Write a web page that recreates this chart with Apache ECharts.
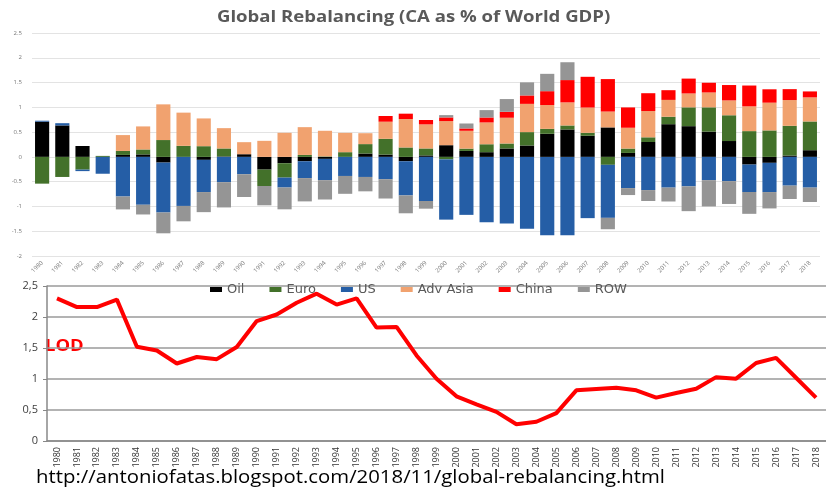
<!DOCTYPE html>
<html>
<head>
<meta charset="utf-8">
<script src="https://cdn.jsdelivr.net/npm/echarts@6/dist/echarts.min.js"></script>
<style>
  html, body { margin: 0; padding: 0; background: #fff; }
  #main { width: 826px; height: 490px; }
</style>
</head>
<body>
<div id="main"></div>
<script>
var years = [];
for (var y = 1980; y <= 2018; y++) years.push(String(y));

// current accounts as % of world GDP
var oil = [0.71, 0.635, 0.22, 0, 0.04, 0.05, -0.115, 0, -0.06, 0.01,
  0.054, -0.257, -0.128, -0.088, -0.04, 0, 0.068, 0.047, -0.088, 0.03,
  0.236, 0.12, 0.095, 0.17, 0.23, 0.466, 0.554, 0.426, 0.595, 0.08,
  0.30, 0.66, 0.62, 0.51, 0.32, -0.155, -0.12, 0.027, 0.135];
var euro = [-0.54, -0.405, -0.257, 0.02, 0.08, 0.10, 0.34, 0.223, 0.216, 0.16,
  0, -0.33, -0.29, 0.04, 0.01, 0.095, 0.19, 0.318, 0.19, 0.14,
  -0.05, 0.047, 0.16, 0.10, 0.27, 0.10, 0.08, 0.06, -0.16, 0.088,
  0.095, 0.15, 0.38, 0.49, 0.52, 0.52, 0.534, 0.60, 0.58];
var us = [0.02, 0.045, -0.03, -0.34, -0.80, -0.966, -1.007, -0.99, -0.65, -0.51,
  -0.35, 0, -0.20, -0.34, -0.43, -0.385, -0.405, -0.45, -0.69, -0.89,
  -1.216, -1.17, -1.32, -1.345, -1.45, -1.58, -1.58, -1.236, -1.07, -0.63,
  -0.67, -0.62, -0.595, -0.47, -0.49, -0.554, -0.59, -0.58, -0.62];
var advAsia = [0, 0, 0, 0, 0.32, 0.465, 0.72, 0.67, 0.56, 0.41,
  0.243, 0.324, 0.486, 0.56, 0.517, 0.39, 0.22, 0.345, 0.574, 0.486,
  0.486, 0.36, 0.44, 0.52, 0.57, 0.48, 0.466, 0.51, 0.32, 0.42,
  0.53, 0.34, 0.28, 0.30, 0.30, 0.50, 0.56, 0.52, 0.486];
var china = [0, 0, 0, 0, 0, 0, 0, 0, 0, 0,
  0, 0, 0, 0, 0, 0, 0, 0.115, 0.108, 0.088,
  0.074, 0.047, 0.10, 0.12, 0.17, 0.28, 0.45, 0.62, 0.655, 0.41,
  0.36, 0.196, 0.30, 0.196, 0.31, 0.42, 0.27, 0.22, 0.12];
var row = [0, 0, 0, 0, -0.26, -0.196, -0.42, -0.31, -0.405, -0.51,
  -0.46, -0.39, -0.44, -0.47, -0.39, -0.36, -0.29, -0.39, -0.36, -0.155,
  0.047, 0.10, 0.149, 0.257, 0.264, 0.35, 0.36, 0, -0.23, -0.14,
  -0.22, -0.28, -0.50, -0.53, -0.46, -0.44, -0.33, -0.27, -0.29];

// LOD line
var lod = [2.30, 2.16, 2.16, 2.28, 1.52, 1.46, 1.25, 1.355, 1.32, 1.516,
  1.935, 2.04, 2.23, 2.376, 2.2, 2.30, 1.83, 1.84, 1.38, 1.005,
  0.72, 0.59, 0.47, 0.27, 0.31, 0.45, 0.817, 0.84, 0.86, 0.817,
  0.70, 0.774, 0.844, 1.03, 1.005, 1.258, 1.34, 1.02, 0.70];

var names = ['Oil', 'Euro', 'US', 'Adv Asia', 'China', 'ROW'];
var colors = ['#000000', '#43712a', '#255ea6', '#f1a26f', '#ff0000', '#959595'];
var blocks = [oil, euro, us, advAsia, china, row];

var myChart = echarts.init(document.getElementById('main'));

var series = names.map(function (n, i) {
  return {
    name: n,
    type: 'bar',
    stack: 'ca',
    xAxisIndex: 0,
    yAxisIndex: 0,
    barCategoryGap: '30%',
    itemStyle: { color: colors[i] },
    data: blocks[i]
  };
});
series.push({
  name: 'LOD',
  type: 'line',
  xAxisIndex: 1,
  yAxisIndex: 1,
  symbol: 'none',
  lineStyle: { color: '#ff0000', width: 4 },
  data: lod
});

var option = {
  animation: false,
  textStyle: { fontFamily: 'Open Sans' },
  legend: {
    data: names,
    left: 205,
    top: 278,
    icon: 'rect',
    itemWidth: 12,
    itemHeight: 5,
    itemGap: 25,
    textStyle: { fontSize: 13, color: '#595959', fontFamily: 'DejaVu Sans' }
  },
  grid: [
    { left: 32, top: 33, width: 788, height: 223 },
    { left: 47, top: 286, width: 781, height: 155 }
  ],
  xAxis: [{
    gridIndex: 0,
    type: 'category',
    data: years,
    axisLine: { show: false },
    axisTick: { show: false },
    axisLabel: { rotate: 45, fontSize: 6, color: '#777', margin: 6 }
  }, {
    gridIndex: 1,
    type: 'category',
    data: years,
    axisLine: { lineStyle: { color: '#888', width: 1.5 } },
    axisTick: { lineStyle: { color: '#888' }, length: 4 },
    axisLabel: { rotate: 90, fontSize: 9, color: '#333', margin: 6, interval: 0 }
  }],
  yAxis: [{
    gridIndex: 0,
    type: 'value',
    min: -2,
    max: 2.5,
    interval: 0.5,
    axisLine: { show: false },
    axisTick: { show: false },
    axisLabel: { fontSize: 6, color: '#777', margin: 10 },
    splitLine: { lineStyle: { color: '#e3e3e3' } }
  }, {
    gridIndex: 1,
    type: 'value',
    min: 0,
    max: 2.5,
    interval: 0.5,
    axisLine: { show: true, lineStyle: { color: '#888', width: 1.5 } },
    axisTick: { show: true, length: 4, lineStyle: { color: '#888' } },
    axisLabel: {
      fontSize: 11, color: '#404040', margin: 9,
      formatter: function (v) { return String(v).replace('.', ','); }
    },
    splitLine: { lineStyle: { color: '#9a9a9a', width: 1.5 } }
  }],
  graphic: [{
    type: 'text',
    x: 217,
    y: 9,
    scaleX: 1.16,
    style: {
      text: 'Global Rebalancing (CA as % of World GDP)',
      fill: '#595959', fontSize: 16, fontWeight: 'bold', fontFamily: 'Open Sans'
    }
  }, {
    type: 'text',
    x: 45,
    y: 338,
    scaleX: 1.15,
    style: { text: 'LOD', fill: '#ff0000', fontSize: 16, fontWeight: 'bold', fontFamily: 'Open Sans' }
  }, {
    type: 'text',
    x: 36,
    y: 469,
    scaleX: 1.13,
    style: {
      text: 'http://antoniofatas.blogspot.com/2018/11/global-rebalancing.html',
      fill: '#000', fontSize: 18, fontFamily: 'Open Sans'
    }
  }],
  series: series
};

myChart.setOption(option);
</script>
</body>
</html>
